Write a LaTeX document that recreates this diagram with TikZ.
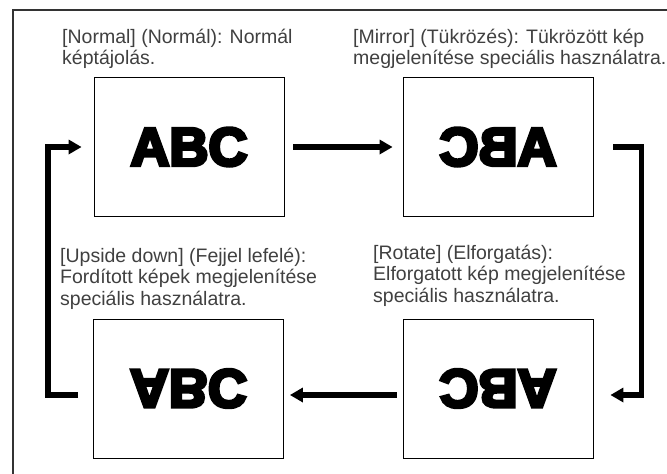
\documentclass[tikz,border=0pt]{standalone}
\usepackage{fontspec}
\usepackage{graphicx}
\setmainfont{Liberation Sans}
\newfontfamily\abcfont[FakeBold=6]{Liberation Sans Bold}
\usetikzlibrary{arrows.meta}

\begin{document}
\begin{tikzpicture}[x=1pt, y=-1pt,
    screen/.style={draw, line width=0.8pt, minimum width=190pt, minimum height=139pt,
        inner sep=0pt, font=\abcfont\fontsize{54}{54}\selectfont},
    caption/.style={anchor=base west, align=left, inner sep=0pt, text=black!75,
        font=\fontsize{19.5}{21.5}\selectfont},
    flow/.style={line width=5.5pt, -{Triangle[length=13pt, width=14pt]}}]
    \useasboundingbox (0,0) rectangle (667,474);
    \clip (0,0) rectangle (667,474);
    \draw[line width=1.8pt, black!80] (13,10) rectangle (700,500);

    % the four screens
    \node[screen] (normal) at (189,147) {ABC};
    \node[screen] (mirror) at (498,147) {\reflectbox{ABC}};
    \node[screen] (upside) at (188.5,388.5) {\scalebox{1}[-1]{ABC}};
    \node[screen] (rotate) at (498,388.5) {\scalebox{-1}[-1]{ABC}};

    % captions, placed by the baseline of their last line
    \node[caption] (normaltext) at (62,64.5) {[Normal] (Normál): Normál\\képtájolás.};
    \node[caption] (mirrortext) at (353,64.5) {[Mirror] (Tükrözés): Tükrözött kép\\megjelenítése speciális használatra.};
    \node[caption] (upsidetext) at (60,305) {[Upside down] (Fejjel lefelé):\\Fordított képek megjelenítése\\speciális használatra.};
    \node[caption] (rotatetext) at (373,302) {[Rotate] (Elforgatás):\\Elforgatott kép megjelenítése\\speciális használatra.};

    % cycle of arrows
    \draw[flow] ([xshift=9pt]normal.east) -- ([xshift=-10pt]mirror.west);
    \draw[flow] ([xshift=20pt]mirror.east) -- ++(28,0) |- ([xshift=17pt,yshift=-6.5pt]rotate.east);
    \draw[flow] ([xshift=-6pt,yshift=-6.5pt]rotate.west) -- ([xshift=6pt,yshift=-6.5pt]upside.east);
    \draw[flow] ([xshift=-15pt,yshift=-6.5pt]upside.west) -- ++(-30,0) |- ([xshift=-12pt]normal.west);
\end{tikzpicture}
\end{document}
